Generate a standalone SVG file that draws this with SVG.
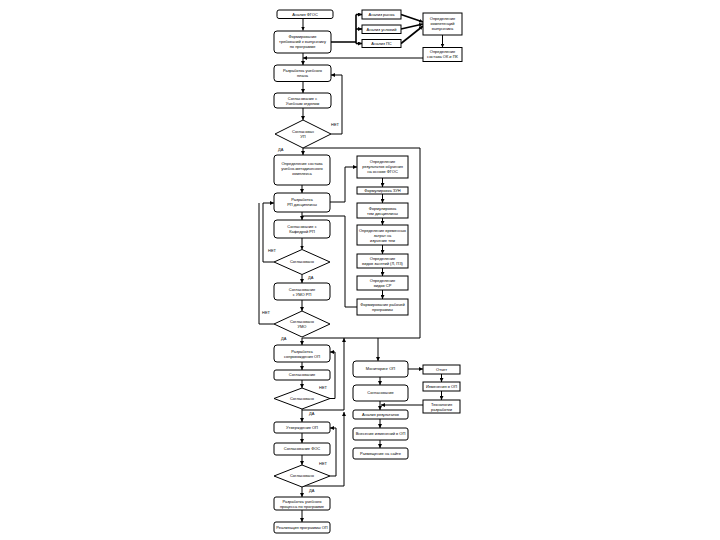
<svg xmlns="http://www.w3.org/2000/svg" width="720" height="540" viewBox="0 0 720 540">
<defs>
<marker id="ah" viewBox="0 0 6 6" refX="6" refY="3" markerWidth="4" markerHeight="4" orient="auto" markerUnits="userSpaceOnUse"><path d="M0,0 L6,3 L0,6 z" fill="#000"/></marker>
<style>
.b{fill:#fff;stroke:#000;stroke-width:1}
.c{fill:none;stroke:#000;stroke-width:1}
.a{fill:none;stroke:#000;stroke-width:1;marker-end:url(#ah)}
.t{stroke-width:1.6}
text{font-family:"Liberation Sans",Arial,sans-serif;font-size:4px;fill:#000;text-anchor:middle}
.l{font-size:4px;text-anchor:start}
</style>
</defs>
<rect width="720" height="540" fill="#fff"/>
<g id="connectors">
<path class="a" d="M303,18.5 V30.5"/>
<path class="c t" d="M331,42 H356 M356,14.5 V43.5"/>
<path class="a t" d="M356,14.5 H362"/>
<path class="a t" d="M356,29 H362"/>
<path class="a t" d="M356,43.5 H362"/>
<path class="a t" d="M401,14.5 L423,22"/>
<path class="a t" d="M401,29 L423,24"/>
<path class="a t" d="M401,43.5 L423,26"/>
<path class="a" d="M442.5,35 V47.5"/>
<path class="a" d="M423,58 H303"/>
<path class="a" d="M303,53 V65"/>
<path class="a" d="M303,81.5 V93"/>
<path class="a" d="M303,108 V120"/>
<path class="c" d="M331,134 H342 V75"/>
<path class="a" d="M342,75 H331"/>
<path class="a" d="M303,148 V155"/>
<path class="c" d="M303,148 H420 V338 H302"/>
<path class="a" d="M302,185 V193"/>
<path class="c" d="M330,202 H345 V167"/>
<path class="a" d="M345,167 H357"/>
<path class="a" d="M302,212 V220"/>
<path class="c" d="M357,307 H345 V216 H302"/>
<path class="a" d="M302,238 V249.5"/>
<path class="c" d="M274,262 H263 V203"/>
<path class="a" d="M263,203 H274"/>
<path class="a" d="M302,274.5 V283"/>
<path class="a" d="M302,300 V311"/>
<path class="c" d="M274,324 H259 V203"/>
<path class="a" d="M382.5,178 V187"/>
<path class="a" d="M382.5,194 V203"/>
<path class="a" d="M382.5,218 V225"/>
<path class="a" d="M382.5,245 V254"/>
<path class="a" d="M382.5,268 V276"/>
<path class="a" d="M382.5,290 V299"/>
<path class="a" d="M302,338 V345"/>
<path class="a" d="M302,362 V370"/>
<path class="a" d="M302,380 V388"/>
<path class="c" d="M330,398.5 H335 V352"/>
<path class="a" d="M335,352 H330"/>
<path class="a" d="M302,409 V422"/>
<path class="c" d="M302,410 H344"/>
<path class="a" d="M344,410 V338"/>
<path class="a" d="M302,433 V443"/>
<path class="a" d="M302,455 V465"/>
<path class="c" d="M330,476 H336 V428"/>
<path class="a" d="M336,428 H330"/>
<path class="c" d="M302,486 H344"/>
<path class="a" d="M344,486 V412"/>
<path class="a" d="M302,487 V497"/>
<path class="a" d="M302,510 V522"/>
<path class="a" d="M378,338 V361"/>
<path class="a" d="M408,369 H423"/>
<path class="a" d="M441.5,374 V382"/>
<path class="a" d="M441.5,391 V400"/>
<path class="a" d="M380,377 V385"/>
<path class="a" d="M423,405 H381"/>
<path class="a" d="M380,401 V410"/>
<path class="a" d="M380,419 V428"/>
<path class="a" d="M380,440 V448"/>
<text class="l" x="331" y="126">НЕТ</text>
<text class="l" x="278" y="151">ДА</text>
<text class="l" x="268" y="252">НЕТ</text>
<text class="l" x="308" y="279">ДА</text>
<text class="l" x="262" y="314">НЕТ</text>
<text class="l" x="281" y="340">ДА</text>
<text class="l" x="319" y="389">НЕТ</text>
<text class="l" x="309" y="415">ДА</text>
<text class="l" x="319" y="465">НЕТ</text>
<text class="l" x="309" y="492">ДА</text>
</g>
<g id="n1"><rect class="b" x="277" y="10" width="56" height="8.5" rx="2"/><text x="305" y="15.7">Анализ ФГОС</text></g>
<g id="n2"><rect class="b" x="274" y="31" width="57" height="22" rx="3"/><text x="302.5" y="38">Формирование</text><text x="302.5" y="43">требований к выпускнику</text><text x="302.5" y="48">по программе</text></g>
<g id="r1"><rect class="b" x="362" y="10" width="39" height="9"/><text x="381.5" y="16">Анализ рынка</text></g>
<g id="r2"><rect class="b" x="362" y="25" width="39" height="8.5"/><text x="381.5" y="30.7">Анализ условий</text></g>
<g id="r3"><rect class="b" x="362" y="39.5" width="39" height="8"/><text x="381.5" y="44.9">Анализ ПС</text></g>
<g id="r4"><rect class="b" x="423" y="13" width="39" height="22"/><text x="442.5" y="20">Определение</text><text x="442.5" y="25">компетенций</text><text x="442.5" y="30">выпускника</text></g>
<g id="r5"><rect class="b" x="423" y="47.5" width="39" height="14"/><text x="442.5" y="53">Определение</text><text x="442.5" y="58">состава ОК и ПК</text></g>
<g id="n3"><rect class="b" x="274" y="65" width="57" height="16.5" rx="3"/><text x="302.5" y="72">Разработка учебного</text><text x="302.5" y="77">плана</text></g>
<g id="n4"><rect class="b" x="274" y="93" width="57" height="15" rx="3"/><text x="302.5" y="99.5">Согласование с</text><text x="302.5" y="104.5">Учебным отделом</text></g>
<g id="d1"><path class="b" d="M275,134 L303,120 L331,134 L303,148 z"/><text x="303" y="133">Согласован</text><text x="303" y="138">УП</text></g>
<g id="n5"><rect class="b" x="274" y="155" width="56" height="30" rx="3"/><text x="302" y="165">Определение состава</text><text x="302" y="170">учебно-методического</text><text x="302" y="175">комплекса</text></g>
<g id="n6"><rect class="b" x="274" y="193" width="56" height="19" rx="3"/><text x="302" y="201">Разработка</text><text x="302" y="206">РП дисциплины</text></g>
<g id="n7"><rect class="b" x="274" y="220" width="56" height="18" rx="3"/><text x="302" y="228">Согласование с</text><text x="302" y="233">Кафедрой РП</text></g>
<g id="d2"><path class="b" d="M274,262 L302,249.5 L330,262 L302,274.5 z"/><text x="302" y="263.4">Согласовано</text></g>
<g id="n8"><rect class="b" x="274" y="283" width="56" height="17" rx="3"/><text x="302" y="290.5">Согласование</text><text x="302" y="295.5">с УМО РП</text></g>
<g id="d3"><path class="b" d="M274,324 L302,311 L330,324 L302,337 z"/><text x="302" y="323">Согласовано</text><text x="302" y="328">УМО</text></g>
<g id="c1"><rect class="b" x="357" y="156" width="51" height="22"/><text x="382.5" y="163">Определение</text><text x="382.5" y="168">результатов обучения</text><text x="382.5" y="173">на основе ФГОС</text></g>
<g id="c2"><rect class="b" x="357" y="187" width="51" height="7"/><text x="382.5" y="191.9">Формулировка ЗУН</text></g>
<g id="c3"><rect class="b" x="357" y="203" width="51" height="15"/><text x="382.5" y="209.5">Формулировка</text><text x="382.5" y="214.5">тем дисциплины</text></g>
<g id="c4"><rect class="b" x="357" y="225" width="51" height="20"/><text x="382.5" y="231.5">Определение временных</text><text x="382.5" y="236.5">затрат на</text><text x="382.5" y="241.5">изучение тем</text></g>
<g id="c5"><rect class="b" x="357" y="254" width="51" height="14"/><text x="382.5" y="260">Определение</text><text x="382.5" y="265">видов занятий (Л, ПЗ)</text></g>
<g id="c6"><rect class="b" x="357" y="276" width="51" height="14"/><text x="382.5" y="282">Определение</text><text x="382.5" y="287">видов СР</text></g>
<g id="c7"><rect class="b" x="357" y="299" width="51" height="16"/><text x="382.5" y="306">Формирование рабочей</text><text x="382.5" y="311">программы</text></g>
<g id="n9"><rect class="b" x="274" y="345" width="56" height="17" rx="3"/><text x="302" y="352.5">Разработка</text><text x="302" y="357.5">сопровождения ОП</text></g>
<g id="n10"><rect class="b" x="274" y="370" width="56" height="10" rx="2"/><text x="302" y="376.4">Согласование</text></g>
<g id="d4"><path class="b" d="M274,398.5 L302,388 L330,398.5 L302,409 z"/><text x="302" y="400">Согласовано</text></g>
<g id="n11"><rect class="b" x="274" y="422" width="56" height="11" rx="2"/><text x="302" y="428.9">Утверждение ОП</text></g>
<g id="n12"><rect class="b" x="274" y="443" width="56" height="12" rx="2"/><text x="302" y="450.4">Согласование ФОС</text></g>
<g id="d5"><path class="b" d="M274,476 L302,465 L330,476 L302,487 z"/><text x="302" y="477.4">Согласовано</text></g>
<g id="n13"><rect class="b" x="274" y="497" width="56" height="13" rx="2"/><text x="302" y="502.5">Разработка учебного</text><text x="302" y="507.5">процесса по программе</text></g>
<g id="n14"><rect class="b" x="274" y="522" width="56" height="11" rx="2"/><text x="302" y="528.9">Реализация программы ОП</text></g>
<g id="m1"><rect class="b" x="353" y="361" width="55" height="16" rx="3"/><text x="380.5" y="370.4">Мониторинг ОП</text></g>
<g id="m2"><rect class="b" x="353" y="385" width="55" height="16" rx="3"/><text x="380.5" y="394.4">Согласование</text></g>
<g id="m3"><rect class="b" x="353" y="410" width="55" height="9" rx="2"/><text x="380.5" y="415.9">Анализ результатов</text></g>
<g id="m4"><rect class="b" x="353" y="428" width="55" height="12" rx="2"/><text x="380.5" y="435.4">Внесение изменений в ОП</text></g>
<g id="m5"><rect class="b" x="353" y="448" width="55" height="11" rx="2"/><text x="380.5" y="454.9">Размещение на сайте</text></g>
<g id="s1"><rect class="b" x="423" y="365" width="37" height="9"/><text x="441.5" y="370.9">Отчет</text></g>
<g id="s2"><rect class="b" x="423" y="382" width="37" height="9"/><text x="441.5" y="387.9">Изменения в ОП</text></g>
<g id="s3"><rect class="b" x="423" y="400" width="37" height="13"/><text x="441.5" y="405.5">Технология</text><text x="441.5" y="410.5">разработки</text></g>
</svg>
